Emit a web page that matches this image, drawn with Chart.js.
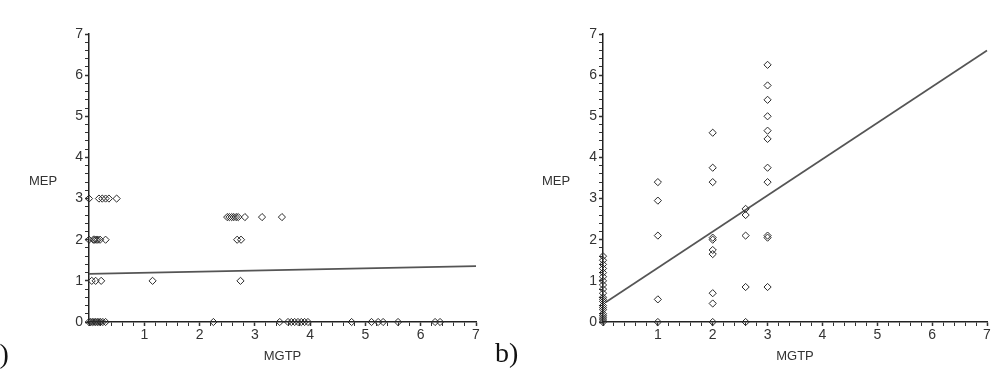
<!DOCTYPE html>
<html><head><meta charset="utf-8">
<script src="https://cdn.jsdelivr.net/npm/chart.js@4.4.1/dist/chart.umd.min.js"></script>
<style>
body{margin:0;background:#fff;width:1000px;height:372px;overflow:hidden;position:relative}
.box{position:absolute;top:0;height:372px;width:500px}
.pl{position:absolute;font-family:"Liberation Serif","DejaVu Serif",serif;font-size:28px;line-height:1;color:#111}
</style></head><body>
<div class="box" style="left:0"><canvas id="ca"></canvas></div>
<div class="box" style="left:500px"><canvas id="cb"></canvas></div>
<div class="pl" id="la" style="left:-13px;top:340px"></div>
<div class="pl" id="lb" style="left:495px;top:339px"></div>
<script>
const xTitle = 'MGTP';
const yTitle = 'MEP';
const panelLabels = ['a)', 'b)'];
const axisMin = 0, axisMax = 7, minorStep = 0.2;

// Panel a) data
const aX = [0, 0.18, 0.24, 0.30, 0.36, 0.50,
            0, 0.08, 0.10, 0.13, 0.16, 0.20, 0.30,
            0.05, 0.12, 0.22, 1.15, 2.74,
            0, 0.03, 0.06, 0.09, 0.12, 0.15, 0.18, 0.21, 0.25, 0.30,
            2.25, 3.45, 3.60, 3.66, 3.72, 3.78, 3.84, 3.90, 3.96, 4.75, 5.11, 5.23, 5.32, 5.59, 6.26, 6.35,
            2.50, 2.54, 2.58, 2.62, 2.66, 2.70, 2.82, 3.13, 3.49,
            2.68, 2.75];
const aY = [3, 3, 3, 3, 3, 3,
            2, 2, 2, 2, 2, 2, 2,
            1, 1, 1, 1, 1,
            0, 0, 0, 0, 0, 0, 0, 0, 0, 0,
            0, 0, 0, 0, 0, 0, 0, 0, 0, 0, 0, 0, 0, 0, 0, 0,
            2.55, 2.55, 2.55, 2.55, 2.55, 2.55, 2.55, 2.55, 2.55,
            2, 2];
const aLineX = [0, 7];
const aLineY = [1.17, 1.36];

// Panel b) data
const bX = [0,0,0,0,0,0,0,0,0,0,0,0,0,0,0,0,0,0,0,0,0,
            1,1,1,1,1,
            2,2,2,2,2,2,2,2,2,2,
            2.6,2.6,2.6,2.6,2.6,
            3,3,3,3,3,3,3,3,3,3,3];
const bY = [0,0.05,0.1,0.15,0.2,0.3,0.35,0.4,0.5,0.55,0.6,0.7,0.8,0.9,1.0,1.1,1.2,1.3,1.4,1.5,1.6,
            3.4,2.95,2.1,0.55,0,
            4.6,3.75,3.4,2.05,2.0,1.75,1.65,0.7,0.45,0,
            2.75,2.6,2.1,0.85,0,
            6.25,5.75,5.4,5.0,4.65,4.45,3.75,3.4,2.1,2.05,0.85];
const bLineX = [0.05, 7];
const bLineY = [0.48, 6.6];

document.getElementById('la').textContent = panelLabels[0];
document.getElementById('lb').textContent = panelLabels[1];

function pts(xs, ys){ return xs.map((x,i)=>({x:x, y:ys[i]})); }
const isInt = v => Math.abs(v - Math.round(v)) < 1e-6;
const FONT = '"Liberation Sans", Arial, sans-serif';

const yTitlePlugin = {
  id: 'yTitle',
  afterDraw(chart, args, opts){
    const ctx = chart.ctx, a = chart.chartArea;
    ctx.save();
    ctx.font = '13px ' + FONT;
    ctx.fillStyle = '#333';
    ctx.textAlign = 'center';
    ctx.textBaseline = 'middle';
    ctx.fillText(opts.text, opts.x, a.top + (a.bottom - a.top) * 0.511);
    ctx.restore();
  }
};

function makeChart(id, xs, ys, lx, ly, yAxisW, rightPad, titleX){
  return new Chart(document.getElementById(id), {
    type: 'scatter',
    data: { datasets: [
      { data: pts(xs, ys), pointStyle: 'rectRot', pointRadius: 3.6, borderWidth: 1,
        borderColor: '#2a2a2a', backgroundColor: 'rgba(255,255,255,0)', clip: false },
      { data: pts(lx, ly), showLine: true, pointRadius: 0, borderColor: '#555',
        borderWidth: 1.7, clip: false }
    ]},
    plugins: [yTitlePlugin],
    options: {
      responsive: false, animation: false, devicePixelRatio: 1,
      layout: { padding: { left: 0, top: 34, right: rightPad, bottom: 0 } },
      plugins: { legend: { display: false }, tooltip: { enabled: false },
                 yTitle: { text: yTitle, x: titleX } },
      scales: {
        x: {
          type: 'linear', min: axisMin, max: axisMax,
          afterFit: s => { s.height = 50; },
          border: { display: true, color: '#222', width: 1.5 },
          grid: { drawOnChartArea: false, drawTicks: true, tickLength: 4, color: '#333',
                  tickWidth: c => isInt(c.tick.value) ? 1.5 : 1 },
          ticks: { stepSize: minorStep, autoSkip: false, maxRotation: 0, padding: 1,
                   color: '#333', font: { size: 14, family: FONT },
                   callback: v => (isInt(v) && Math.round(v) !== 0) ? String(Math.round(v)) : '' },
          title: { display: true, text: xTitle, color: '#333', padding: { top: 0, bottom: 8 },
                   font: { size: 13, family: FONT } }
        },
        y: {
          type: 'linear', min: axisMin, max: axisMax,
          afterFit: s => { s.width = yAxisW; },
          border: { display: true, color: '#222', width: 1.5 },
          grid: { drawOnChartArea: false, drawTicks: true, tickLength: 4, color: '#333',
                  tickWidth: c => isInt(c.tick.value) ? 1.5 : 1 },
          ticks: { stepSize: minorStep, autoSkip: false, padding: 2,
                   color: '#333', font: { size: 14, family: FONT },
                   callback: v => isInt(v) ? String(Math.round(v)) : '' }
        }
      }
    }
  });
}
document.getElementById('ca').width = 500; document.getElementById('ca').height = 372;
document.getElementById('cb').width = 500; document.getElementById('cb').height = 372;
makeChart('ca', aX, aY, aLineX, aLineY, 89, 24, 43);
makeChart('cb', bX, bY, bLineX, bLineY, 103, 13, 56);
</script>
</body></html>
